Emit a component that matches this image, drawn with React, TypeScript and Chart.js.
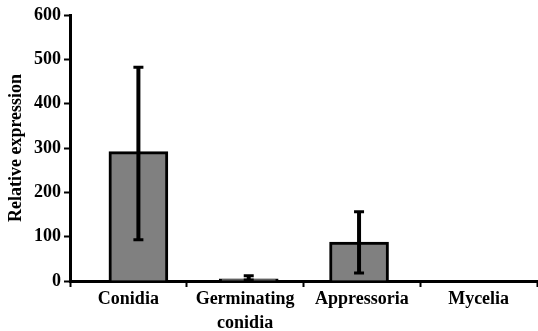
import React, { useEffect, useRef } from "react";
import { Chart, registerables } from "chart.js";

Chart.register(...registerables);

const categories: (string | string[])[] = ["Conidia", ["Germinating", "conidia"], "Appressoria", "Mycelia"];
const values = [292, 5, 88, 0];
const errLow = [93, 2, 18, 0];
const errHigh = [482, 12, 156, 0];
const yTicks = [0, 100, 200, 300, 400, 500, 600];

const FONT = "'Liberation Serif', 'Times New Roman', serif";

const errorBarPlugin = {
  id: "errorBars",
  afterDatasetsDraw(chart: any) {
    const ctx = chart.ctx;
    const meta = chart.getDatasetMeta(0);
    const y = chart.scales.y;
    ctx.save();
    ctx.strokeStyle = "#000";
    meta.data.forEach((bar: any, i: number) => {
      if (errHigh[i] === errLow[i]) return;
      const x = bar.x;
      const yl = y.getPixelForValue(errLow[i]);
      const yh = y.getPixelForValue(errHigh[i]);
      ctx.lineWidth = 4;
      ctx.beginPath();
      ctx.moveTo(x, yl);
      ctx.lineTo(x, yh);
      ctx.stroke();
      ctx.lineWidth = 3;
      ctx.beginPath();
      ctx.moveTo(x - 5, yl);
      ctx.lineTo(x + 5, yl);
      ctx.moveTo(x - 5, yh);
      ctx.lineTo(x + 5, yh);
      ctx.stroke();
    });
    ctx.restore();
  },
};

export default function App() {
  const ref = useRef<HTMLCanvasElement>(null);
  useEffect(() => {
    document.body.style.margin = "0";
    const chart = new Chart(ref.current!, {
      type: "bar",
      data: {
        labels: categories,
        datasets: [
          {
            data: values.map((v, i) => ({ x: i, y: v })),
            xAxisID: "xb",
            backgroundColor: "#808080",
            borderColor: "#000",
            borderWidth: 3,
            borderSkipped: "bottom",
            barThickness: 59,
          },
        ],
      },
      options: {
        animation: false,
        responsive: false,
        maintainAspectRatio: false,
        layout: { padding: { top: 15, right: 1, left: 0, bottom: 0 } },
        plugins: { legend: { display: false }, tooltip: { enabled: false } },
        scales: {
          xb: {
            type: "linear",
            display: false,
            offset: false,
            grid: { offset: false },
            min: -0.62,
            max: 3.613,
          },
          x: {
            type: "category",
            offset: true,
            grid: {
              offset: true,
              drawOnChartArea: false,
              drawTicks: true,
              tickLength: 6,
              tickWidth: 2,
              tickColor: "#000",
            },
            border: { display: true, color: "#000", width: 3 },
            ticks: {
              color: "#000",
              padding: 1,
              maxRotation: 0,
              autoSkip: false,
              font: { family: FONT, size: 18, weight: "bold", lineHeight: 1.3 },
            },
            afterFit(scale: any) {
              scale.height = 50;
            },
          },
          y: {
            min: 0,
            max: 600,
            afterBuildTicks(scale: any) {
              scale.ticks = yTicks.map((v) => ({ value: v }));
            },
            grid: {
              drawOnChartArea: false,
              drawTicks: true,
              tickLength: 6,
              tickWidth: 2,
              tickColor: "#000",
            },
            border: { display: true, color: "#000", width: 3 },
            ticks: {
              color: "#000",
              padding: 3,
              font: { family: FONT, size: 18, weight: "bold" },
            },
            title: {
              display: true,
              text: "Relative expression",
              color: "#000",
              padding: { top: 6, bottom: 0 },
              font: { family: FONT, size: 18, weight: "bold" },
            },
            afterFit(scale: any) {
              scale.width = 70;
            },
          },
        },
      },
      plugins: [errorBarPlugin],
    });
    return () => chart.destroy();
  }, []);
  return <canvas ref={ref} width={538} height={331} style={{ display: "block" }} />;
}
